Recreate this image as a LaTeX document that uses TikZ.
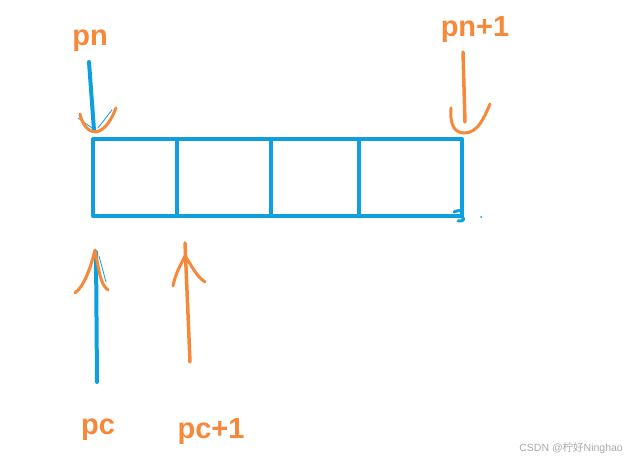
\documentclass[tikz,border=0pt]{standalone}
\usepackage{fontspec}
\setmainfont{Liberation Sans}
\newfontfamily\cjkfont{Noto Sans CJK SC}
\definecolor{penblue}{RGB}{14,160,222}
\definecolor{penorange}{RGB}{246,136,58}
\definecolor{wmgray}{RGB}{170,170,170}
\tikzset{
  bluepen/.style={draw=penblue, line width=4pt, line cap=round, line join=round},
  orangepen/.style={draw=penorange, line width=3.5pt, line cap=round, line join=round},
  thinblue/.style={draw=penblue, line width=0.8pt, line cap=round},
  lbl/.style={text=penorange, font=\fontsize{29}{32}\selectfont\bfseries, inner sep=0pt},
  wm/.style={text=wmgray, font=\fontsize{10.5}{12}\selectfont, inner sep=0pt}
}
\begin{document}
\begin{tikzpicture}[x=1pt,y=-1pt]
\useasboundingbox[fill=white] (0,0) rectangle (630,462);
% array box
\draw[bluepen] (93,139) rectangle (462,216);
\coordinate (d1t) at (177,141); \coordinate (d1b) at (177,216);
\coordinate (d2t) at (271,141); \coordinate (d2b) at (271,216);
\coordinate (d3t) at (359,141); \coordinate (d3b) at (359,216);
\draw[bluepen] (d1t) -- (d1b);
\draw[bluepen] (d2t) -- (d2b);
\draw[bluepen] (d3t) -- (d3b);
% small corner squiggle
\draw[bluepen, line width=3pt] (454,212) .. controls (462,208) and (466,214) .. (460,216) .. controls (466,218) and (464,222) .. (458,221);
\fill[penblue] (481,217) circle (1pt);
% labels
\node[lbl] (pn) at (90,41) {pn};
\node[lbl] (pn1) at (475,30) {pn+1};
\node[lbl] (pc) at (98,430) {pc};
\node[lbl] (pc1) at (211,432) {pc+1};
% pn arrow (blue shaft, orange head)
\coordinate (pnS) at (89,62);
\coordinate (pnE) at (94,130);
\draw[bluepen] (pnS) -- (pnE);
\draw[thinblue] (78,118) -- (92,128);
\draw[thinblue] (112,110) -- (98,128);
\draw[orangepen, line width=3pt] (80,114) .. controls (82,124) and (88,132) .. (96,132) .. controls (106,130) and (112,118) .. (116,108);
% pn+1 arrow
\coordinate (pn1S) at (463,52);
\coordinate (pn1E) at (465,122);
\draw[orangepen] (pn1S) -- (pn1E);
\draw[orangepen, line width=3pt] (451,108) .. controls (450,120) and (452,133) .. (464,133) .. controls (478,133) and (484,118) .. (490,104);
% pc arrow
\coordinate (pcS) at (97,382);
\coordinate (pcE) at (96,252);
\draw[bluepen] (pcS) -- (pcE);
\draw[thinblue] (84,280) -- (94,256);
\draw[thinblue] (106,282) -- (99,256);
\draw[orangepen, line width=3pt] (75,293) .. controls (84,286) and (90,270) .. (95,250) .. controls (99,270) and (100,284) .. (108,290);
% pc+1 arrow
\coordinate (pc1S) at (190,362);
\coordinate (pc1E) at (185,243);
\draw[orangepen] (pc1S) -- (pc1E);
\draw[orangepen, line width=3pt] (173,286) .. controls (175,275) and (180,266) .. (185,256) .. controls (192,266) and (196,276) .. (205,282);
% watermark
\node[wm, anchor=east] (wm) at (623,448) {CSDN @{\cjkfont 柠好}Ninghao};
\end{tikzpicture}
\end{document}
